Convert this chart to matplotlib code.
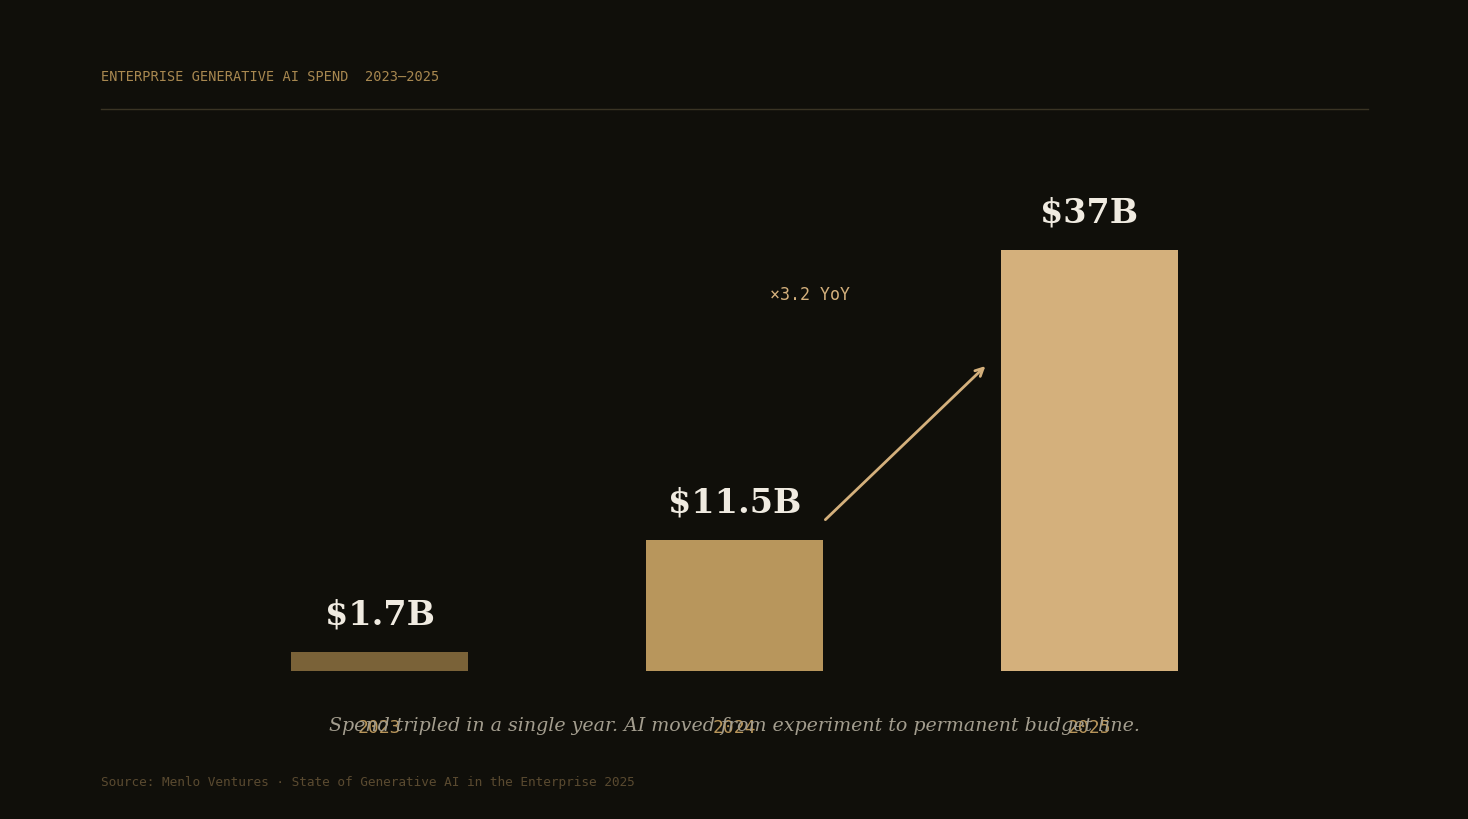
import matplotlib.pyplot as plt

# Data
years = ['2023', '2024', '2025']
spend = [1.7, 11.5, 37.0]
value_labels = ['$1.7B', '$11.5B', '$37B']
bar_colors = ['#7a6238', '#b8965c', '#d4b07c']

bg = '#100f0a'
fig = plt.figure(figsize=(14.68, 8.2), dpi=100)
fig.patch.set_facecolor(bg)

# axes spans x 101..1368 px, y 146..672 px
W, H = 1468, 820
ax = fig.add_axes([101 / W, 1 - 672 / H, (1368 - 101) / W, (672 - 146) / H])
ax.set_facecolor(bg)

x = range(len(years))
bars = ax.bar(x, spend, width=0.5, color=bar_colors, linewidth=0)
ax.set_xlim(-0.785, 2.785)
ax.set_ylim(0, 37 * 526 / 421)

for bar, lab in zip(bars, value_labels):
    ax.annotate(lab, (bar.get_x() + bar.get_width() / 2, bar.get_height()),
                xytext=(0, 15.5), textcoords='offset points', ha='center', va='bottom',
                fontsize=24, fontweight='bold', family='DejaVu Serif', color='#f0ebe1')

# growth arrow
ax.annotate('', xy=(1.707, 26.8), xytext=(1.256, 13.3),
            arrowprops=dict(arrowstyle='->', color='#d4b07c', lw=2,
                            mutation_scale=14, shrinkA=0, shrinkB=0))
ax.text(1.213, 33.1, '×3.2 YoY', ha='center', va='center', fontsize=12,
        family='DejaVu Sans Mono', color='#d4b07c')

ax.set_xticks(list(x))
ax.set_xticklabels(years, family='DejaVu Sans Mono', fontsize=13, color='#b8955a')
ax.tick_params(axis='x', length=0, pad=34)
ax.set_yticks([])
for s in ax.spines.values():
    s.set_visible(False)

# header, rule, caption, source
fig.text(101 / W, 1 - 77 / H, 'ENTERPRISE GENERATIVE AI SPEND  2023\u20132025',
         family='DejaVu Sans Mono', fontsize=9.85, color='#a88850', va='center', ha='left')
fig.add_artist(plt.Line2D([101 / W, 1368 / W], [1 - 109.5 / H, 1 - 109.5 / H],
                          color='#3a3424', lw=1))
fig.text(734 / W, 1 - 726 / H,
         'Spend tripled in a single year. AI moved from experiment to permanent budget line.',
         family='DejaVu Serif', style='italic', fontsize=13.7, color='#a39d8e',
         ha='center', va='center')
fig.text(101 / W, 1 - 783 / H,
         'Source: Menlo Ventures \u00b7 State of Generative AI in the Enterprise 2025',
         family='DejaVu Sans Mono', fontsize=9.15, color='#5a4a30', ha='left', va='center')

fig.savefig('out.png', dpi=100, facecolor=bg)
